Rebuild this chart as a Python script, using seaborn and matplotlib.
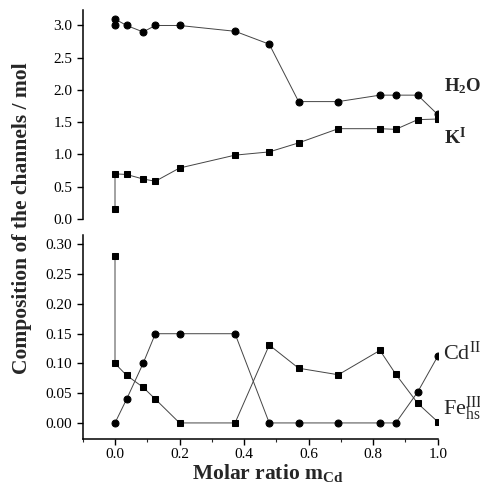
import matplotlib
matplotlib.use("Agg")
import matplotlib.pyplot as plt
import seaborn as sns
import numpy as np
from matplotlib.ticker import MultipleLocator, FormatStrFormatter

sns.set_theme(style="ticks")
plt.rcParams['font.family'] = ['Liberation Serif', 'DejaVu Serif']
plt.rcParams['mathtext.fontset'] = 'custom'
plt.rcParams['mathtext.rm'] = 'Liberation Serif'
plt.rcParams['mathtext.it'] = 'Liberation Serif:italic'
plt.rcParams['mathtext.bf'] = 'Liberation Serif:bold'

# --- data (molar ratio m_Cd) ---
h2o_x = [0.0, 0.0, 0.036, 0.087, 0.125, 0.2, 0.372, 0.478, 0.569, 0.692, 0.821, 0.870, 0.938, 1.0]
h2o_y = [3.0, 3.1, 3.0, 2.9, 3.0, 3.0, 2.91, 2.71, 1.82, 1.82, 1.92, 1.92, 1.92, 1.62]

k_x = [0.0, 0.0, 0.036, 0.087, 0.125, 0.2, 0.372, 0.478, 0.569, 0.692, 0.821, 0.870, 0.938, 1.0]
k_y = [0.16, 0.70, 0.69, 0.62, 0.585, 0.79, 0.99, 1.04, 1.18, 1.40, 1.40, 1.39, 1.54, 1.55]

cd_x = [0.0, 0.036, 0.087, 0.125, 0.2, 0.372, 0.478, 0.569, 0.692, 0.821, 0.870, 0.938, 1.0]
cd_y = [0.0, 0.04, 0.10, 0.15, 0.15, 0.15, 0.0, 0.0, 0.0, 0.0, 0.0, 0.052, 0.112]

fe_x = [0.0, 0.0, 0.036, 0.087, 0.125, 0.2, 0.372, 0.478, 0.569, 0.692, 0.821, 0.870, 0.938, 1.0]
fe_y = [0.28, 0.10, 0.08, 0.06, 0.04, 0.0, 0.0, 0.131, 0.092, 0.081, 0.122, 0.082, 0.033, 0.002]

fig = plt.figure(figsize=(4.81, 4.83), dpi=100)
ax1 = fig.add_axes([0.172, 0.5466, 0.738, 0.4327])
ax2 = fig.add_axes([0.172, 0.0911, 0.738, 0.4224])

line_kw = dict(sort=False, estimator=None, color='#444444', linewidth=0.7,
               markeredgecolor='black', markerfacecolor='black', legend=False)

sns.lineplot(x=h2o_x, y=h2o_y, marker='o', markersize=5, ax=ax1, **line_kw)
sns.lineplot(x=k_x, y=k_y, marker='s', markersize=4.6, ax=ax1, **line_kw)
sns.lineplot(x=cd_x, y=cd_y, marker='o', markersize=5, ax=ax2, **line_kw)
sns.lineplot(x=fe_x, y=fe_y, marker='s', markersize=4.6, ax=ax2, **line_kw)

for ax in (ax1, ax2):
    ax.set_xlim(-0.1, 1.0)
    ax.spines['top'].set_visible(False)
    ax.spines['right'].set_visible(False)
    for s in ax.spines.values():
        s.set_linewidth(1.1)
        s.set_color('black')
    ax.tick_params(axis='both', direction='out', length=4, width=1, labelsize=11, colors='black')
    ax.set_facecolor('white')

ax1.set_ylim(0.0, 3.24)
ax1.yaxis.set_major_locator(MultipleLocator(0.5))
ax1.yaxis.set_major_formatter(FormatStrFormatter('%.1f'))
ax1.spines['bottom'].set_visible(False)
ax1.set_xticks([])
ax1.set_xlabel('')
ax1.set_ylabel('')

ax2.set_ylim(-0.027, 0.316)
ax2.yaxis.set_major_locator(MultipleLocator(0.05))
ax2.yaxis.set_major_formatter(FormatStrFormatter('%.2f'))
ax2.set_xticks([0.0, 0.2, 0.4, 0.6, 0.8, 1.0])
ax2.xaxis.set_major_formatter(FormatStrFormatter('%.1f'))
ax2.xaxis.set_minor_locator(MultipleLocator(0.1))
ax2.tick_params(axis='x', which='major', pad=2.5)
ax2.tick_params(axis='x', which='minor', direction='out', length=2.5, width=0.8, bottom=True)
ax2.set_xlabel('')
ax2.set_ylabel('')

fig.text(0.557, 0.009, r'Molar ratio m$_{\mathbf{Cd}}$', fontsize=15.5, fontweight='bold',
         ha='center', va='baseline')

fig.text(0.046, 0.548, 'Composition of the channels / mol', rotation=90,
         ha='center', va='center', fontsize=15.5, fontweight='bold')

fig.text(0.924, 0.822, r'$\mathbf{H_2O}$', fontsize=13.5, ha='left', va='center')
fig.text(0.924, 0.716, r'$\mathbf{K^I}$', fontsize=14, ha='left', va='center')
fig.text(0.922, 0.268, r'Cd$^{\mathrm{II}}$', fontsize=16, ha='left', va='center')
fig.text(0.922, 0.153, r'Fe$_{\mathrm{hs}}^{\mathrm{III}}$', fontsize=16, ha='left', va='center')

fig.savefig('out.png', dpi=100, facecolor='white')
